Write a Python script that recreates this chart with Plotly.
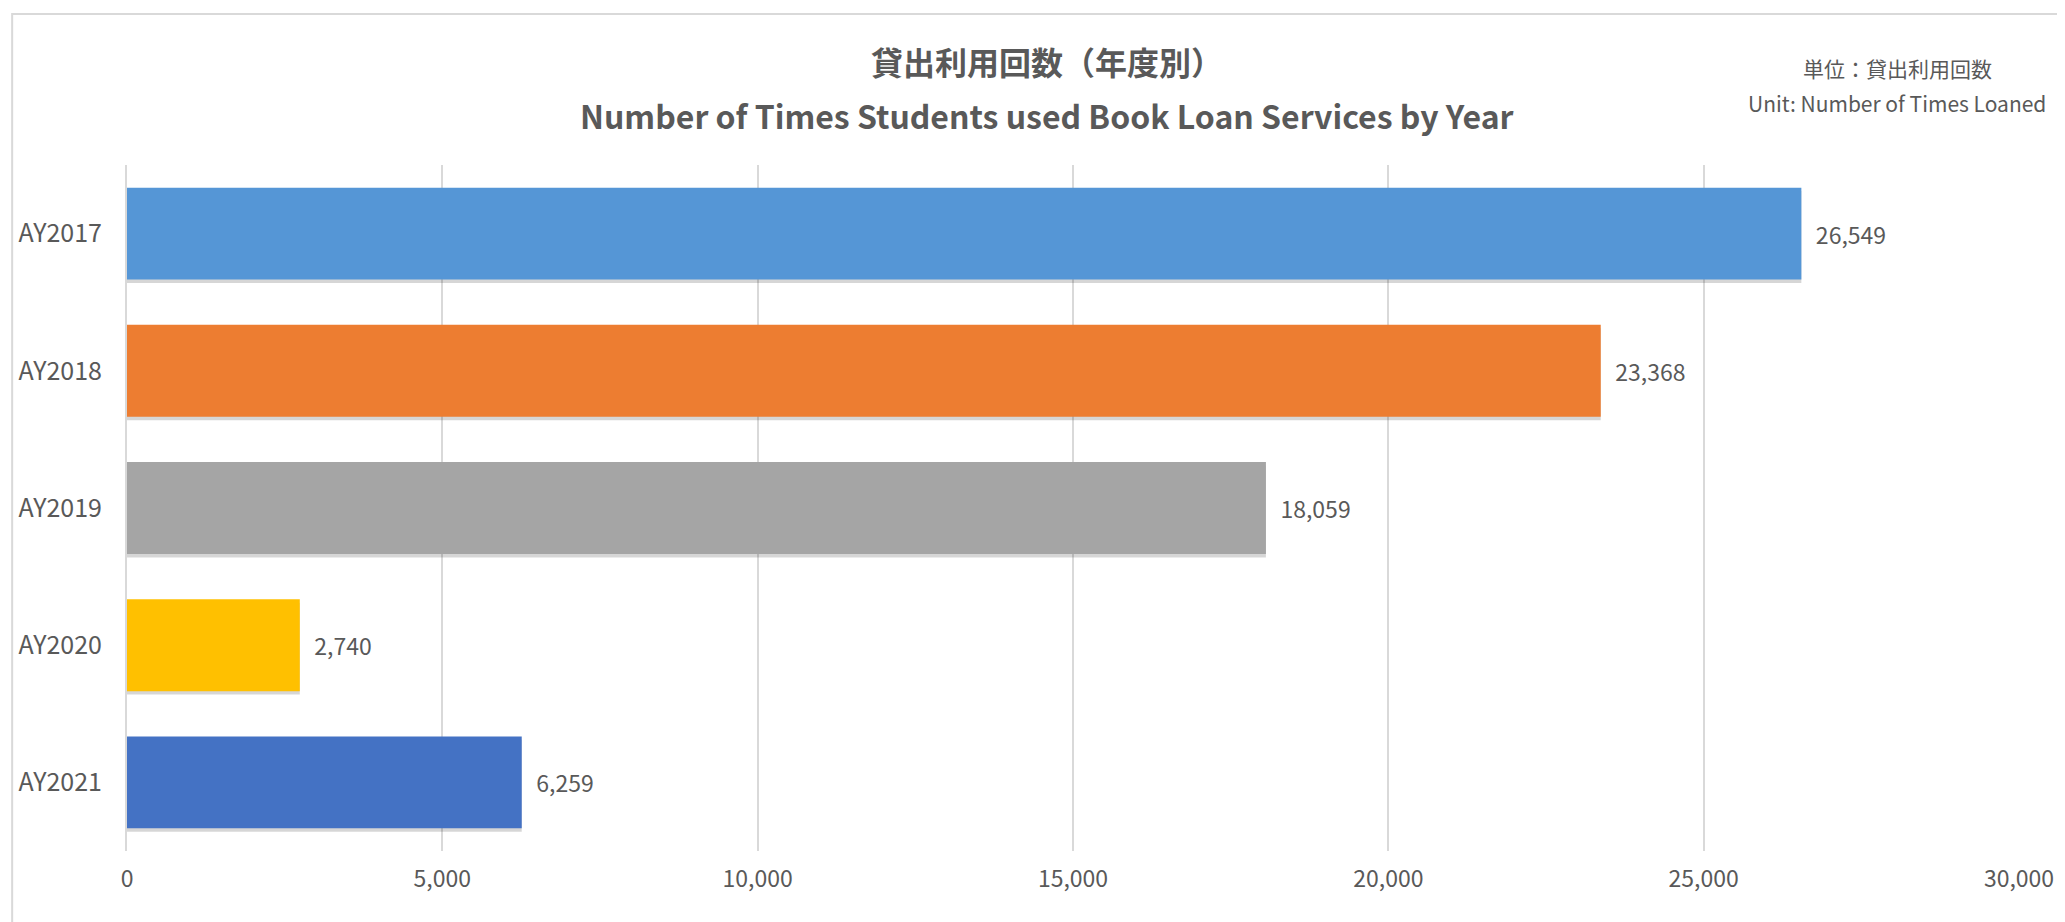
import plotly.graph_objects as go

# Data
years = ["AY2017", "AY2018", "AY2019", "AY2020", "AY2021"]
loans = [26549, 23368, 18059, 2740, 6259]
bar_colors = ["#5596d6", "#ed7d31", "#a5a5a5", "#ffc000", "#4472c4"]

title_jp = "貸出利用回数（年度別）"
title_en = "Number of Times Students used Book Loan Services by Year"
unit_jp = "単位：貸出利用回数"
unit_en = "Unit: Number of Times Loaned"

x_ticks = [0, 5000, 10000, 15000, 20000, 25000, 30000]

text_color = "#595959"
grid_color = "#d9d9d9"
font_family = "Noto Sans CJK JP"
bar_w = 0.67

fig = go.Figure()

# soft drop shadow behind the bars
fig.add_trace(go.Bar(
    y=years,
    x=loans,
    orientation="h",
    width=bar_w,
    offset=-bar_w / 2 + 0.025,
    marker=dict(color="rgba(0,0,0,0.16)", line=dict(width=0)),
    hoverinfo="skip",
))

fig.add_trace(go.Bar(
    y=years,
    x=loans,
    orientation="h",
    width=bar_w,
    offset=-bar_w / 2,
    marker=dict(color=bar_colors, line=dict(width=0)),
    text=[f"\u2002{v:,}" for v in loans],
    textposition="outside",
    textfont=dict(size=23, color=text_color, family=font_family),
    cliponaxis=False,
    hoverinfo="skip",
))

# the page body has an 8px margin, so the figure is drawn 8px smaller
fig.update_layout(
    width=2057,
    height=914,
    margin=dict(l=119, r=46, t=157, b=71),
    paper_bgcolor="white",
    plot_bgcolor="white",
    showlegend=False,
    barmode="overlay",
    font=dict(family=font_family, color=text_color),
)

fig.update_xaxes(
    range=[0, 30000],
    tickvals=x_ticks,
    ticktext=[f"{v:,}" for v in x_ticks],
    tickfont=dict(size=23, color=text_color),
    showgrid=True,
    gridcolor=grid_color,
    gridwidth=2,
    zeroline=False,
    showline=False,
    ticks="",
    ticklabelstandoff=12,
    automargin=False,
)

fig.update_yaxes(
    autorange="reversed",
    tickfont=dict(size=25, color=text_color),
    showgrid=False,
    showline=True,
    linecolor=grid_color,
    linewidth=2,
    ticks="",
    ticklabelstandoff=18,
    automargin=False,
)

# Titles
fig.add_annotation(text=f"<b>{title_jp}</b>", xref="paper", yref="paper",
                   x=0.486, y=1.1516, showarrow=False, xanchor="center", yanchor="middle",
                   font=dict(size=32, color=text_color))
fig.add_annotation(text=f"<b>{title_en}</b>", xref="paper", yref="paper",
                   x=0.486, y=1.0729, showarrow=False, xanchor="center", yanchor="middle",
                   font=dict(size=32, color=text_color))

# Unit note
fig.add_annotation(text=unit_jp, xref="paper", yref="paper",
                   x=0.9356, y=1.1414, showarrow=False, xanchor="center", yanchor="middle",
                   font=dict(size=21, color=text_color))
fig.add_annotation(text=unit_en, xref="paper", yref="paper",
                   x=0.9356, y=1.0904, showarrow=False, xanchor="center", yanchor="middle",
                   font=dict(size=21, color=text_color))

# Outer chart border
fig.add_shape(type="rect", xref="paper", yref="paper",
              x0=-0.0607, y0=-0.2, x1=1.05, y1=1.220,
              line=dict(color=grid_color, width=2), fillcolor="rgba(0,0,0,0)", layer="below")

fig.write_html("out.html")
